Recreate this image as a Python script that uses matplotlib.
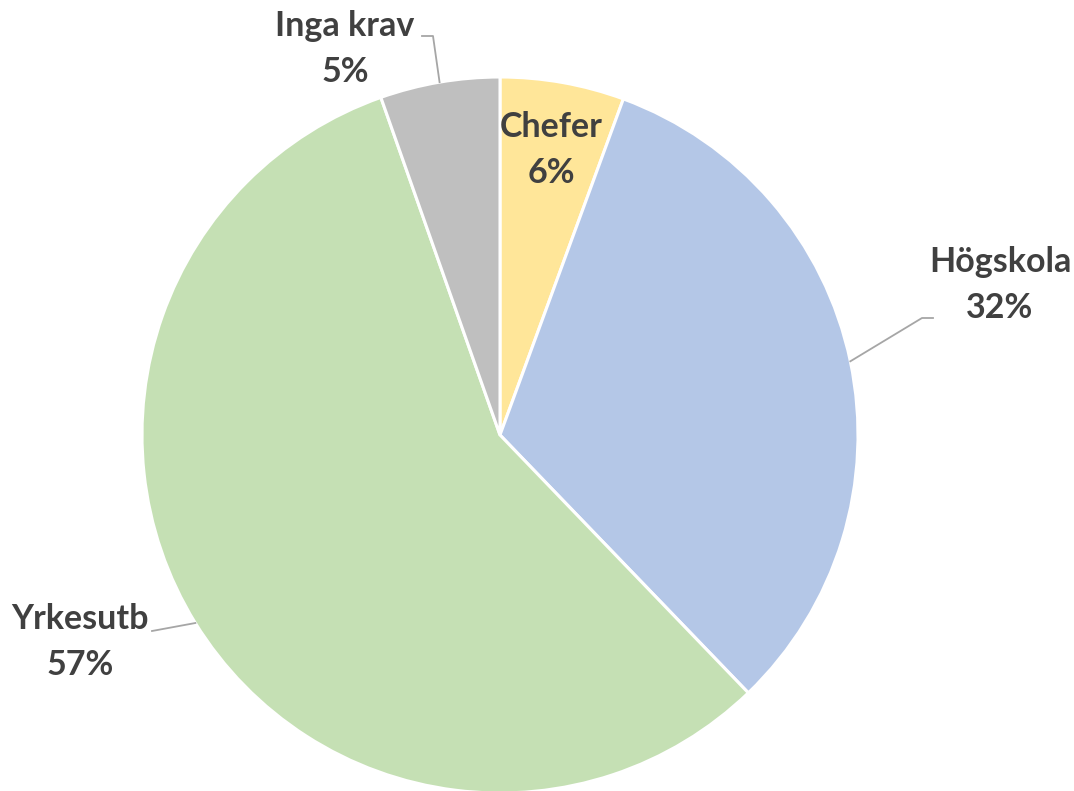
import numpy as np
import matplotlib
matplotlib.use('Agg')
import matplotlib.pyplot as plt

# data
labels = ['Chefer', 'Högskola', 'Yrkesutb', 'Inga krav']
values = [5.6, 32.2, 56.8, 5.4]
colors = ['#FFE699', '#B4C7E7', '#C5E0B4', '#BFBFBF']

W, H = 1074, 791
cx, cy, r = 500, 435, 358   # pie centre / radius in pixels

fig = plt.figure(figsize=(W / 100, H / 100), dpi=100)
ax = fig.add_axes([0, 0, 1, 1])
wedges, _ = ax.pie(values, colors=colors, startangle=90, counterclock=False,
                   radius=1, wedgeprops=dict(edgecolor='white', linewidth=2.2))
ax.set_xlim(-cx / r, (W - cx) / r)
ax.set_ylim(-(H - cy) / r, cy / r)
ax.set_aspect('equal')
ax.axis('off')

def px(x, y):
    return (x - cx) / r, (cy - y) / r

# label centres (pixels) and leader elbows
label_pos = {'Chefer': (551, 150), 'Högskola': (1000, 285),
             'Yrkesutb': (80, 642), 'Inga krav': (345, 49)}
leaders = {'Högskola': [(933, 318), (922, 318)],
           'Yrkesutb': [(152, 631)],
           'Inga krav': [(422, 36), (433, 36)]}

txt = dict(family=['Lato', 'DejaVu Sans'], fontweight='bold', fontsize=24.5,
           color='#404040', ha='center', va='center', linespacing=1.55)

for w, lab, v in zip(wedges, labels, values):
    x, y = px(*label_pos[lab])
    ax.text(x, y, f'{lab}\n{round(v)}%', **txt)
    if lab in leaders:
        mid = np.deg2rad((w.theta1 + w.theta2) / 2)
        pts = [px(*p) for p in leaders[lab]] + [(np.cos(mid), np.sin(mid))]
        xs, ys = zip(*pts)
        ax.plot(xs, ys, color='#A6A6A6', lw=1.3)

fig.savefig('out.png', dpi=100)
